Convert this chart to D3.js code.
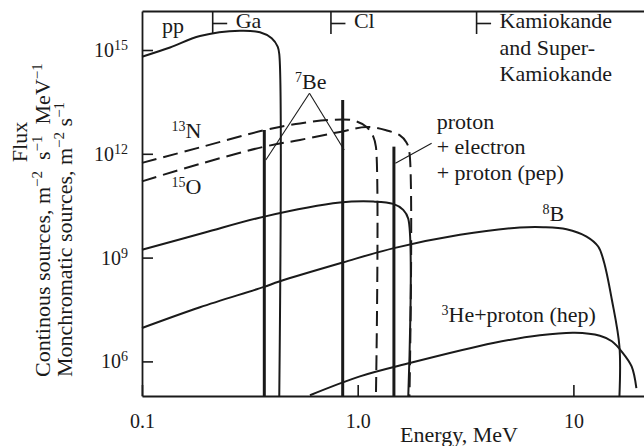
<!DOCTYPE html>
<html><head><meta charset="utf-8">
<script src="https://cdn.jsdelivr.net/npm/d3@7"></script>
<style>
html,body{margin:0;padding:0;background:#fff;}
svg{display:block;font-family:"Liberation Serif","Times New Roman",serif;}
</style></head><body>
<svg id="chart" width="644" height="446"></svg>
<script>
// Solar neutrino spectra: energy in MeV, flux in m^-2 s^-1 MeV^-1 (continuous) or m^-2 s^-1 (lines)
const ppE    = [0.1, 0.1349, 0.1857, 0.2846, 0.3523, 0.3993, 0.4256, 0.4329];
const ppFlux = [6.40e14, 1.18e15, 2.54e15, 3.61e15, 3.24e15, 2.18e15, 1.245e15, 7.67e14];

const n13E    = [0.1, 0.1857, 0.3649, 0.5399, 0.7437, 0.9536, 1.100, 1.181, 1.215];
const n13Flux = [5.46e11, 1.53e12, 4.73e12, 7.55e12, 9.53e12, 9.20e12, 5.97e12, 3.13e12, 1.58e12];

const o15E    = [0.1, 0.1857, 0.3649, 0.5399, 0.8275, 1.100, 1.362, 1.570, 1.683, 1.738];
const o15Flux = [1.60e11, 5.11e11, 1.58e12, 2.52e12, 4.29e12, 5.97e12, 4.73e12, 3.40e12, 2.13e12, 1.06e12];

const f17E    = [0.1, 0.1938, 0.369, 0.8275, 1.181, 1.462, 1.626, 1.716];
const f17Flux = [1.68e9, 5.20e9, 1.53e10, 3.89e10, 4.16e10, 3.57e10, 2.40e10, 1.32e10];

const b8E    = [0.1, 0.1857, 0.3649, 0.4329, 0.852, 1.472, 2.978, 5.649, 7.245, 9.30, 11.51, 13.03, 13.85, 15.08, 16.35];
const b8Flux = [9.20e6, 3.66e7, 1.40e8, 2.04e8, 7.21e8, 1.88e9, 4.55e9, 7.40e9, 7.59e9, 6.64e9, 4.06e9, 2.09e9, 7.55e8, 6.04e7, 2.70e6];

const hepE    = [0.6008, 1.024, 1.747, 4.25, 6.99, 10.16, 13.27, 15.08, 16.78, 18.62, 19.59];
const hepFlux = [1.05e5, 3.68e5, 8.97e5, 3.39e6, 5.70e6, 6.73e6, 5.51e6, 3.82e6, 1.90e6, 7.16e5, 1.68e5];

// monochromatic lines: 7Be (two lines) and pep
const lineE    = [0.369, 0.852, 1.472];
const lineFlux = [4.90e12, 3.60e13, 1.61e12];

// detector thresholds along the top edge
const detectorNames = ["Ga", "Cl", "Kamiokande"];
const detectorE     = [0.2127, 0.7516, 3.558];

const xTicks = [0.1, 1, 10];
const xTickLabels = ["0.1", "1.0", "10"];
const yTicks = [1e6, 1e9, 1e12, 1e15];

// leader lines: [energy, flux] pairs
const beLeaderApex = [0.5976, 5.62e13];
const beLeaderEnds = [[0.369, 6.65e11], [0.852, 1.29e12]];
const pepLeader = [[2.202, 2.02e12], [1.472, 5.35e11]];

const ink = "#1a1a1a";
const svg = d3.select("#chart");
const x = d3.scaleLog().domain([0.1, 21.25]).range([142, 644]);
const y = d3.scaleLog().domain([1e5, 1.34e16]).range([396, 11]);
const yBottom = y.domain()[0];
const frameTop = y.range()[1];

// axes / frame
const gLeft = svg.append("g").attr("transform", `translate(${x(0.1)},0)`)
  .call(d3.axisLeft(y).tickValues(yTicks).tickSizeInner(-11).tickSizeOuter(0).tickPadding(14));
gLeft.selectAll(".tick text").each(function(d) {
  const t = d3.select(this).text("");
  t.append("tspan").text("10");
  t.append("tspan").attr("dy", -7).attr("font-size", 14).text(Math.round(Math.log10(d)));
});
const gBottom = svg.append("g").attr("transform", `translate(0,${y(yBottom)})`)
  .call(d3.axisBottom(x).tickValues(xTicks).tickSizeInner(-11).tickSizeOuter(0).tickPadding(18)
    .tickFormat((d, i) => xTickLabels[i]));
const gTop = svg.append("g").attr("transform", `translate(0,${frameTop})`)
  .call(d3.axisTop(x).tickValues([]).tickSizeOuter(0));
[gLeft, gBottom, gTop].forEach(g => {
  g.select(".domain").attr("stroke", ink).attr("stroke-width", 1.8);
  g.selectAll(".tick line").attr("stroke", ink).attr("stroke-width", 1.6);
  g.selectAll(".tick text").attr("fill", ink).attr("font-size", 20)
    .attr("font-family", "Liberation Serif, Times New Roman, serif");
});

// spectra
const lineGen = d3.line().x(d => x(d[0])).y(d => y(d[1])).curve(d3.curveCatmullRom.alpha(0.5));
function spectrum(E, F, drop) {
  const pts = E.map((e, i) => [e, F[i]]);
  if (drop) pts.push([E[E.length - 1], yBottom]);
  return pts;
}
const curves = [
  {E: ppE, F: ppFlux, drop: true, dash: null},
  {E: f17E, F: f17Flux, drop: true, dash: null},
  {E: b8E, F: b8Flux, drop: true, dash: null},
  {E: hepE, F: hepFlux, drop: false, dash: null},
  {E: n13E, F: n13Flux, drop: true, dash: "15,7"},
  {E: o15E, F: o15Flux, drop: true, dash: "15,7"}
];
svg.append("g").selectAll("path").data(curves).join("path")
  .attr("d", c => lineGen(spectrum(c.E, c.F, c.drop)))
  .attr("fill", "none").attr("stroke", ink).attr("stroke-width", 2)
  .attr("stroke-dasharray", c => c.dash);

// monochromatic lines
svg.append("g").selectAll("line").data(lineE).join("line")
  .attr("x1", d => x(d)).attr("x2", d => x(d))
  .attr("y1", (d, i) => y(lineFlux[i])).attr("y2", y(yBottom))
  .attr("stroke", ink).attr("stroke-width", 3);

// leader lines
const leader = svg.append("g").attr("stroke", ink).attr("stroke-width", 1.1).attr("fill", "none");
beLeaderEnds.forEach(p => leader.append("line")
  .attr("x1", x(beLeaderApex[0])).attr("y1", y(beLeaderApex[1]))
  .attr("x2", x(p[0]) + 1.5).attr("y2", y(p[1])));
leader.append("line")
  .attr("x1", x(pepLeader[0][0])).attr("y1", y(pepLeader[0][1]))
  .attr("x2", x(pepLeader[1][0]) + 1.5).attr("y2", y(pepLeader[1][1]));

// detector thresholds
const det = svg.append("g").selectAll("g").data(detectorE).join("g")
  .attr("transform", d => `translate(${x(d)},0)`);
det.append("line").attr("x1", 0).attr("x2", 0).attr("y1", frameTop).attr("y2", frameTop + 23)
  .attr("stroke", ink).attr("stroke-width", 1.6);
det.append("line").attr("x1", 0).attr("x2", 14.5).attr("y1", frameTop + 12.5).attr("y2", frameTop + 12.5)
  .attr("stroke", ink).attr("stroke-width", 1.6);
det.append("text").attr("x", 23).attr("y", 28).attr("font-size", 22).attr("fill", ink)
  .text((d, i) => detectorNames[i]);
const kamX = x(detectorE[2]) + 23;
svg.append("text").attr("x", kamX).attr("y", 54.7).attr("font-size", 22).attr("fill", ink).text("and Super-");
svg.append("text").attr("x", kamX).attr("y", 81).attr("font-size", 22).attr("fill", ink).text("Kamiokande");

// labels
function label(px, py, sup, main) {
  const t = svg.append("text").attr("x", px).attr("y", py).attr("font-size", 22).attr("fill", ink);
  if (sup) {
    t.append("tspan").attr("font-size", 14).attr("dy", -7).text(sup);
    t.append("tspan").attr("dy", 7).text(main);
  } else {
    t.text(main);
  }
}
label(162, 33, null, "pp");
label(295, 88.5, "7", "Be");
label(171.5, 138, "13", "N");
label(171.5, 194, "15", "O");
label(542.5, 220.7, "8", "B");
label(441.5, 321.7, "3", "He+proton (hep)");
label(436.7, 129.3, null, "proton");
label(436.7, 154, null, "+ electron");
label(436.7, 180, null, "+ proton (pep)");

// axis titles
svg.append("text").attr("x", 400).attr("y", 442).attr("font-size", 22).attr("fill", ink).text("Energy, MeV");
function vtext(bx, by, anchor, parts) {
  const t = svg.append("text").attr("transform", `translate(${bx},${by}) rotate(-90)`)
    .attr("text-anchor", anchor).attr("font-size", 22).attr("fill", ink);
  let raised = false;
  parts.forEach(p => {
    if (p.sup) {
      t.append("tspan").attr("font-size", 15).attr("dy", -8).text(p.sup);
      raised = true;
    } else {
      t.append("tspan").attr("dy", raised ? 8 : null).text(p.t);
      raised = false;
    }
  });
}
vtext(27, 142, "middle", [{t: "Flux"}]);
vtext(49.5, 377, "start", [{t: "Continous sources, m"}, {sup: "\u22122"}, {t: "\u2002s"}, {sup: "\u22121"}, {t: "\u2002MeV"}, {sup: "\u22121"}]);
vtext(72, 377, "start", [{t: "Monchromatic sources, m"}, {sup: "\u22122"}, {t: " s"}, {sup: "\u22121"}]);
</script>
</body></html>
